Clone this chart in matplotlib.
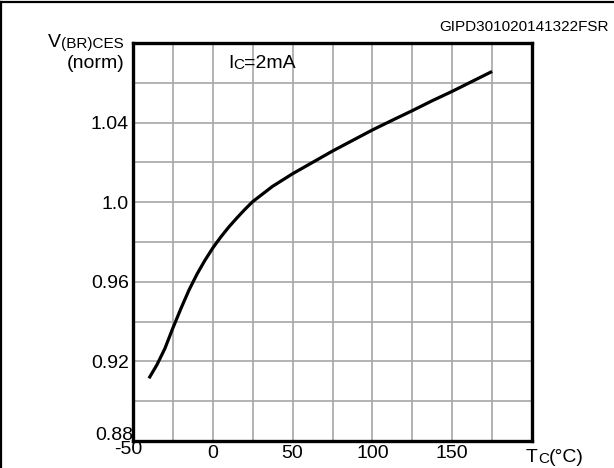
import matplotlib
matplotlib.use("Agg")
import matplotlib.pyplot as plt
import matplotlib.transforms as mtransforms
from matplotlib.lines import Line2D

# values
temp_c = [-40, -35, -30, -25, -20, -15, -10, -5, 0, 5, 10, 15, 20, 25,
          37.5, 50, 62.5, 75, 87.5, 100, 112.5, 125, 137.5, 150, 162.5, 175]
vbr_norm = [0.9115, 0.9183, 0.9265, 0.9368, 0.9465, 0.9557, 0.9637, 0.9707, 0.977,
            0.9825, 0.9875, 0.992, 0.9963, 1.0003, 1.008, 1.0143, 1.020, 1.0257,
            1.031, 1.0363, 1.0412, 1.046, 1.051, 1.0557, 1.0607, 1.0657]

x_grid = list(range(-50, 201, 25))
x_tick_labels = ["-50", "", "0", "", "50", "", "100", "", "150", "", ""]
y_grid = [0.88 + 0.02 * i for i in range(11)]
y_tick_labels = ["0.88", "", "0.92", "", "0.96", "", "1.0", "", "1.04", "", ""]

plt.rcParams["font.family"] = ["Liberation Sans", "DejaVu Sans"]
BIG, SMALL = 14, 11

W, H = 614, 468
fig = plt.figure(figsize=(W / 100, H / 100), dpi=100)
ax = fig.add_axes([133 / W, 1 - 441 / H, 399 / W, 398 / H])

ax.plot(temp_c, vbr_norm, color="black", lw=2.3, solid_capstyle="butt")

ax.set_xlim(-50, 200)
ax.set_ylim(0.88, 1.08)
ax.set_xticks(x_grid)
ax.set_yticks(y_grid)
ax.set_xticklabels(x_tick_labels)
ax.set_yticklabels(y_tick_labels)
ax.tick_params(length=0, labelsize=BIG)
ax.tick_params(axis="x", pad=3)
ax.tick_params(axis="y", pad=3)
ax.grid(True, color="#a6a6a6", lw=1.2)
for s in ax.spines.values():
    s.set_linewidth(2.4)
    s.set_color("black")

# 0.88 sits just above the corner, -50 a bit left of it
ax.get_yticklabels()[0].set_transform(
    ax.get_yaxis_transform(which="tick1") + mtransforms.ScaledTranslation(0, 8 / 100, fig.dpi_scale_trans))
ax.get_xticklabels()[0].set_transform(
    ax.get_xaxis_transform(which="tick1") + mtransforms.ScaledTranslation(-5 / 100, 0, fig.dpi_scale_trans))

# frame of the datasheet figure (left and top)
fig.add_artist(Line2D([1 / W, 1 / W], [0, 1 - 2 / H], transform=fig.transFigure, color="black", lw=1.6))
fig.add_artist(Line2D([1 / W, 1], [1 - 2 / H, 1 - 2 / H], transform=fig.transFigure, color="black", lw=1.6))

fig.text(609 / W, 1 - 27 / H, "GIPD301020141322FSR", ha="right", va="center", fontsize=11)


def chain(parts, x, y, ha="left"):
    """Write text parts of different sizes one after another on one line."""
    if ha == "left":
        t = fig.text(x, y, parts[0][0], fontsize=parts[0][1], ha="left", va="baseline")
        for txt, size in parts[1:]:
            t = ax.annotate(txt, xy=(1, 0), xycoords=t, fontsize=size, ha="left", va="bottom",
                            annotation_clip=False)
    else:
        t = fig.text(x, y, parts[-1][0], fontsize=parts[-1][1], ha="right", va="baseline")
        for txt, size in reversed(parts[:-1]):
            t = ax.annotate(txt, xy=(0, 0), xycoords=t, fontsize=size, ha="right", va="bottom",
                            annotation_clip=False)


chain([("V", BIG), ("(BR)CES", SMALL)], 124 / W, 1 - 48 / H, ha="right")
fig.text(124 / W, 1 - 63 / H, "(norm)", ha="right", va="center", fontsize=BIG)
chain([("I", BIG), ("C", SMALL), ("=2mA", BIG)], 228 / W, 1 - 68 / H)
chain([("T", BIG), ("C", SMALL), ("(°C)", BIG)], 526 / W, 1 - 462 / H)

fig.savefig("out.png", dpi=100)
